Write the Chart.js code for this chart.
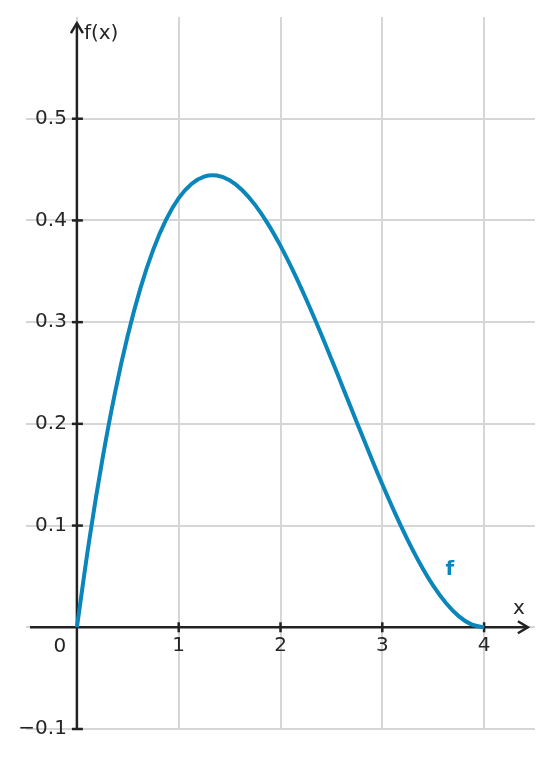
<!DOCTYPE html>
<html>
<head>
<meta charset="utf-8">
<script src="https://cdn.jsdelivr.net/npm/chart.js@4"></script>
<style>
  html, body { margin: 0; padding: 0; background: #fff; }
  #grafico { display: block; }
</style>
</head>
<body>
<canvas id="grafico" width="553" height="758"></canvas>
<script>
// valores (paso 0.125)
const xValores = [0, 0.125, 0.25, 0.375, 0.5, 0.625, 0.75, 0.875, 1, 1.125, 1.25, 1.375, 1.5, 1.625, 1.75, 1.875, 2,
  2.125, 2.25, 2.375, 2.5, 2.625, 2.75, 2.875, 3, 3.125, 3.25, 3.375, 3.5, 3.625, 3.75, 3.875, 4];
const fValores = [0, 0.0880, 0.1648, 0.2310, 0.2871, 0.3337, 0.3713, 0.4005, 0.4219, 0.4359, 0.4431, 0.4441, 0.4395, 0.4297, 0.4153, 0.3969, 0.375,
  0.3502, 0.3230, 0.2940, 0.2637, 0.2326, 0.2014, 0.1706, 0.1406, 0.1122, 0.0857, 0.0618, 0.0410, 0.0239, 0.0110, 0.0028, 0];

const xTicks = [1, 2, 3, 4];
const yTicks = [-0.1, 0.1, 0.2, 0.3, 0.4, 0.5];
const xTickLabels = ['1', '2', '3', '4'];
const yTickLabels = ['\u22120.1', '0.1', '0.2', '0.3', '0.4', '0.5'];
const origenLabel = '0';
const ejeXLabel = 'x';
const ejeYLabel = 'f(x)';
const serieLabel = 'f';

const colorCurva = '#0a86ba';
const colorEje = '#222222';
const colorTexto = '#262626';
const fuente = '20px "DejaVu Sans", sans-serif';

const puntos = xValores.map((x, i) => ({ x: x, y: fValores[i] }));

const ejes = {
  id: 'ejes',
  beforeDatasetsDraw(chart) {
    const ctx = chart.ctx;
    const sx = chart.scales.x;
    const sy = chart.scales.y;
    const x0 = sx.getPixelForValue(0);
    const y0 = sy.getPixelForValue(0);
    ctx.save();
    ctx.strokeStyle = colorEje;
    ctx.lineWidth = 2.5;
    ctx.lineCap = 'butt';
    ctx.lineJoin = 'miter';

    // eje x
    const xIni = sx.getPixelForValue(-0.46);
    const xFin = sx.getPixelForValue(4.43);
    ctx.beginPath();
    ctx.moveTo(xIni, y0);
    ctx.lineTo(xFin, y0);
    ctx.stroke();
    ctx.beginPath();
    ctx.moveTo(xFin - 10, y0 - 6);
    ctx.lineTo(xFin, y0);
    ctx.lineTo(xFin - 10, y0 + 6);
    ctx.stroke();

    // eje y
    const yIni = sy.getPixelForValue(-0.1);
    const yFin = sy.getPixelForValue(0.594);
    ctx.beginPath();
    ctx.moveTo(x0, yIni);
    ctx.lineTo(x0, yFin);
    ctx.stroke();
    ctx.beginPath();
    ctx.moveTo(x0 - 6, yFin + 10);
    ctx.lineTo(x0, yFin);
    ctx.lineTo(x0 + 6, yFin + 10);
    ctx.stroke();

    // marcas
    xTicks.forEach(v => {
      const px = sx.getPixelForValue(v);
      ctx.beginPath();
      ctx.moveTo(px, y0 - 5);
      ctx.lineTo(px, y0 + 5);
      ctx.stroke();
    });
    yTicks.forEach(v => {
      const py = sy.getPixelForValue(v);
      ctx.beginPath();
      ctx.moveTo(x0 - 5, py);
      ctx.lineTo(x0 + 6, py);
      ctx.stroke();
    });

    // textos
    ctx.fillStyle = colorTexto;
    ctx.font = fuente;
    ctx.textAlign = 'center';
    ctx.textBaseline = 'top';
    xTicks.forEach((v, i) => {
      ctx.fillText(xTickLabels[i], sx.getPixelForValue(v), y0 + 9);
    });
    ctx.fillText(origenLabel, x0 - 17, y0 + 10);
    ctx.textAlign = 'right';
    ctx.textBaseline = 'middle';
    yTicks.forEach((v, i) => {
      ctx.fillText(yTickLabels[i], x0 - 10, sy.getPixelForValue(v));
    });
    ctx.textAlign = 'left';
    ctx.fillText(ejeYLabel, x0 + 7, yFin + 11);
    ctx.textAlign = 'center';
    ctx.textBaseline = 'alphabetic';
    ctx.fillText(ejeXLabel, xFin - 9, y0 - 13);

    ctx.fillStyle = colorCurva;
    ctx.font = 'bold 20px "DejaVu Sans", sans-serif';
    ctx.textAlign = 'left';
    ctx.fillText(serieLabel, sx.getPixelForValue(3.62), sy.getPixelForValue(0.051));
    ctx.restore();
  }
};

new Chart(document.getElementById('grafico'), {
  type: 'line',
  data: {
    datasets: [{
      label: serieLabel,
      data: puntos,
      borderColor: colorCurva,
      borderWidth: 4,
      pointRadius: 0,
      fill: false,
      tension: 0.4
    }]
  },
  options: {
    responsive: false,
    animation: false,
    devicePixelRatio: 1,
    layout: { padding: { left: 26, right: 18, top: 17, bottom: 29 } },
    plugins: { legend: { display: false }, tooltip: { enabled: false } },
    scales: {
      x: {
        type: 'linear',
        min: -0.5,
        max: 4.5,
        afterBuildTicks: s => { s.ticks = [0].concat(xTicks).map(v => ({ value: v })); },
        ticks: { display: false },
        border: { display: false },
        grid: { color: '#d6d6d6', lineWidth: 2, drawTicks: false }
      },
      y: {
        type: 'linear',
        min: -0.1,
        max: 0.6,
        afterBuildTicks: s => { s.ticks = [0].concat(yTicks).map(v => ({ value: v })); },
        ticks: { display: false },
        border: { display: false },
        grid: { color: '#d6d6d6', lineWidth: 2, drawTicks: false }
      }
    }
  },
  plugins: [ejes]
});
</script>
</body>
</html>
